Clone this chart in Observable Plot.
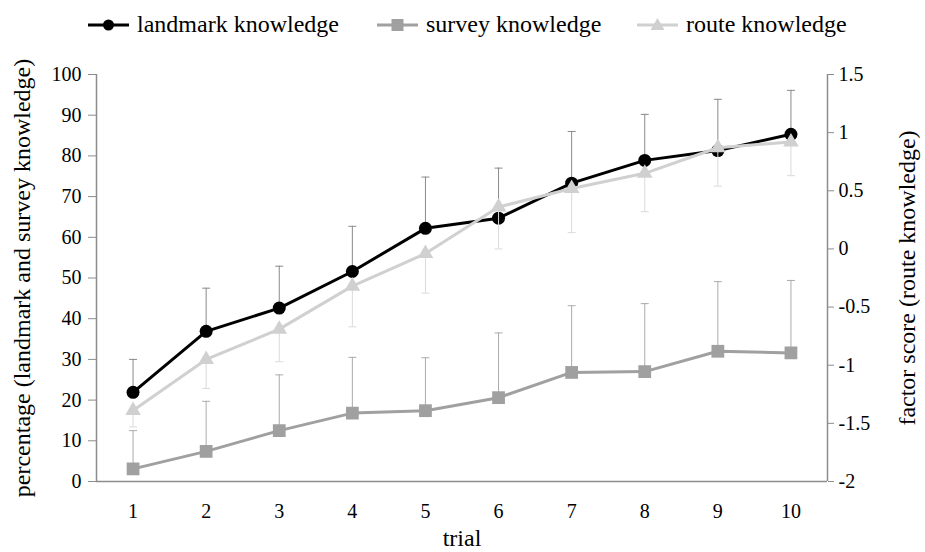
<!DOCTYPE html>
<html>
<head>
<meta charset="utf-8">
<script src="https://cdn.jsdelivr.net/npm/d3@7"></script>
<script src="https://cdn.jsdelivr.net/npm/@observablehq/plot@0.6"></script>
<style>
  html, body { margin: 0; padding: 0; background: white; }
  body { width: 925px; height: 552px; overflow: hidden; font-family: "Liberation Serif", "Times New Roman", serif; }
  #legend { position: relative; width: 925px; height: 45px; font-size: 24px; color: #000; font-family: "Liberation Serif", "Times New Roman", serif; }
  .item { position: absolute; top: 2px; height: 45px; display: flex; align-items: center; white-space: nowrap; }
  .item span { font-family: "Liberation Serif", "Times New Roman", serif !important; font-size: 24px; }
  .item svg { display: block; margin-right: 8px; }
</style>
</head>
<body>
<div id="legend"></div>
<div id="chart"></div>
<script>
// ---- data ----
const trials = [1, 2, 3, 4, 5, 6, 7, 8, 9, 10];
const landmark    = [21.9, 36.9, 42.6, 51.6, 62.2, 64.7, 73.3, 78.9, 81.3, 85.3];
const landmarkErr = [8.1, 10.6, 10.3, 11.1, 12.6, 12.3, 12.7, 11.3, 12.6, 10.8];
const survey      = [3.1, 7.4, 12.5, 16.8, 17.4, 20.6, 26.8, 27.0, 32.0, 31.6];
const surveyErr   = [9.4, 12.3, 13.7, 13.7, 13.0, 15.9, 16.4, 16.7, 17.1, 17.8];
const route       = [-1.39, -0.95, -0.69, -0.32, -0.04, 0.36, 0.52, 0.65, 0.87, 0.92];
const routeErr    = [0.14, 0.25, 0.28, 0.35, 0.34, 0.36, 0.38, 0.33, 0.33, 0.29];
const leftTicks   = [0, 10, 20, 30, 40, 50, 60, 70, 80, 90, 100];
const rightTicks  = [-2, -1.5, -1, -0.5, 0, 0.5, 1, 1.5];
const seriesNames = ["landmark knowledge", "survey knowledge", "route knowledge"];
const labels = {
  x: "trial",
  yLeft: "percentage (landmark and survey knowledge)",
  yRight: "factor score (route knowledge)"
};

// ---- styles ----
const C = { landmark: "#000000", survey: "#a0a0a0", route: "#d0d0d0",
            lmErr: "#8a8a8a", svErr: "#ababab", rtErr: "#dadada", axis: "#8c8c8c" };
const FONT = '"Liberation Serif", "Times New Roman", serif';

// right axis (route) mapped onto the left percentage scale
const rMin = -2, rMax = 1.5;
const toLeft = f => (f - rMin) / (rMax - rMin) * 100;
const fromLeft = v => Math.round((v / 100 * (rMax - rMin) + rMin) * 10) / 10;

const rows = trials.map((t, i) => ({
  trial: t,
  lm: landmark[i], lmHi: landmark[i] + landmarkErr[i],
  sv: survey[i], svHi: survey[i] + surveyErr[i],
  rt: toLeft(route[i]), rtLo: toLeft(route[i] - routeErr[i])
}));

// cap symbol: short horizontal line
const cap = { draw(ctx, size) { const w = Math.sqrt(size) / 2; ctx.moveTo(-w, 0); ctx.lineTo(w, 0); } };

// ---- legend ----
const legendItems = [
  { name: seriesNames[0], left: 88,  color: C.landmark, shape: "circle" },
  { name: seriesNames[1], left: 377, color: C.survey,   shape: "square" },
  { name: seriesNames[2], left: 637, color: C.route,    shape: "triangle" }
];
const legend = document.getElementById("legend");
for (const it of legendItems) {
  const div = document.createElement("div");
  div.className = "item";
  div.style.left = it.left + "px";
  let m = "";
  if (it.shape === "circle") m = `<circle cx="20.5" cy="10" r="5.5" fill="${it.color}"/>`;
  else if (it.shape === "square") m = `<rect x="14.5" y="4" width="12" height="12" fill="${it.color}"/>`;
  else m = `<path d="M20.5,3 L27.5,15 L13.5,15 Z" fill="${it.color}"/>`;
  div.innerHTML = `<svg width="41" height="20"><line x1="0" x2="41" y1="10" y2="10" stroke="${it.color}" stroke-width="3"/>${m}</svg><span style='font-family:${FONT}'>${it.name}</span>`;
  legend.appendChild(div);
}

// ---- chart ----
const chart = Plot.plot({
  width: 925,
  height: 507,
  marginTop: 29,
  marginBottom: 71,
  marginLeft: 96,
  marginRight: 98,
  style: { fontFamily: FONT, fontSize: "20px", color: "#000", background: "white", overflow: "visible" },
  x: { domain: [0.5, 10.5] },
  y: { domain: [0, 100] },
  marks: [
    Plot.axisX(trials, { tickSize: 0, tickPadding: 22, label: null, fontSize: 20, tickFormat: d => String(d) }),
    Plot.axisY(leftTicks, { anchor: "left", tickSize: 8, tickPadding: 7, label: null, stroke: C.axis, fontSize: 20, tickFormat: d => String(d) }),
    Plot.axisY(rightTicks.map(toLeft), { anchor: "right", tickSize: 6, tickPadding: 5, label: null, stroke: C.axis, fontSize: 20, tickFormat: d => String(fromLeft(d)) }),
    Plot.ruleX([0.5, 10.5], { stroke: C.axis, strokeWidth: 1.5 }),
    Plot.ruleY([0], { stroke: C.axis, strokeWidth: 1.5 }),

    // landmark error bars
    Plot.ruleX(rows, { x: "trial", y1: "lm", y2: "lmHi", stroke: C.lmErr, strokeWidth: 1 }),
    Plot.dot(rows, { x: "trial", y: "lmHi", symbol: cap, r: 4.5, stroke: C.lmErr, strokeWidth: 1, fill: "none" }),
    // survey
    Plot.ruleX(rows, { x: "trial", y1: "sv", y2: "svHi", stroke: C.svErr, strokeWidth: 1 }),
    Plot.dot(rows, { x: "trial", y: "svHi", symbol: cap, r: 4.5, stroke: C.svErr, strokeWidth: 1, fill: "none" }),
    Plot.line(rows, { x: "trial", y: "sv", stroke: C.survey, strokeWidth: 3 }),
    Plot.dot(rows, { x: "trial", y: "sv", symbol: "square", r: 7.2, fill: C.survey, stroke: "none" }),
    // landmark
    Plot.line(rows, { x: "trial", y: "lm", stroke: C.landmark, strokeWidth: 3 }),
    Plot.dot(rows, { x: "trial", y: "lm", symbol: "circle", r: 6.5, fill: C.landmark, stroke: "none" }),
    // route
    Plot.ruleX(rows, { x: "trial", y1: "rtLo", y2: "rt", stroke: C.rtErr, strokeWidth: 1 }),
    Plot.dot(rows, { x: "trial", y: "rtLo", symbol: cap, r: 4.5, stroke: C.rtErr, strokeWidth: 1, fill: "none" }),
    Plot.line(rows, { x: "trial", y: "rt", stroke: C.route, strokeWidth: 3 }),
    Plot.dot(rows, { x: "trial", y: "rt", symbol: "triangle", r: 5.8, fill: C.route, stroke: "none" }),

    // axis titles
    Plot.text([labels.yLeft], { frameAnchor: "left", dx: -74, rotate: -90, textAnchor: "middle", lineAnchor: "middle", fontSize: 24, fill: "#000" }),
    Plot.text([labels.yRight], { frameAnchor: "right", dx: 80, rotate: -90, textAnchor: "middle", lineAnchor: "middle", fontSize: 24, fill: "#000" }),
    Plot.text([labels.x], { frameAnchor: "bottom", dy: 57, textAnchor: "middle", lineAnchor: "middle", fontSize: 24, fill: "#000" })
  ]
});
document.getElementById("chart").appendChild(chart);
</script>
</body>
</html>
